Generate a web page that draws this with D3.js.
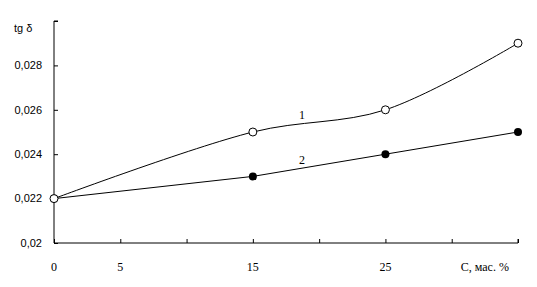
<!DOCTYPE html>
<html>
<head>
<meta charset="utf-8">
<script src="https://cdn.jsdelivr.net/npm/d3@7"></script>
<style>
  body { margin: 0; background: #fff; }
  svg text { fill: #000; }
</style>
</head>
<body>
<div id="chart"></div>
<script>
// x slots are evenly spaced, only some carry a label
const xSlots = [0, 1, 2, 3, 4, 5, 6, 7];
const xTickLabels = ["0", "5", "", "15", "", "25", "", ""];
const yTicks = [0.02, 0.022, 0.024, 0.026, 0.028, 0.03];
const yTickLabels = ["0,02", "0,022", "0,024", "0,026", "0,028", ""];

// series: slot index + tg delta value
const series1Slots = [0, 3, 5, 7];
const series1Values = [0.022, 0.025, 0.026, 0.029];
const series2Slots = [0, 3, 5, 7];
const series2Values = [0.022, 0.023, 0.024, 0.025];

const width = 537, height = 287;
const margin = { top: 21, right: 19, bottom: 44, left: 54 };

const svg = d3.select("#chart")
  .append("svg")
  .attr("width", width)
  .attr("height", height);

const x = d3.scaleLinear()
  .domain([0, 7])
  .range([margin.left, width - margin.right]);

const y = d3.scaleLinear()
  .domain([0.02, 0.03])
  .range([height - margin.bottom, margin.top]);

// y axis, ticks pointing inside
const yAxis = d3.axisRight(y)
  .tickValues(yTicks)
  .tickSize(4)
  .tickFormat("");
svg.append("g")
  .attr("transform", `translate(${margin.left},0)`)
  .call(yAxis)
  .call(g => g.select(".domain").attr("d", `M4,${y(0.03)}H0V${y(0.02)}`))
  .selectAll("line, path").attr("stroke", "#000");

svg.selectAll(".ylab")
  .data(yTicks)
  .join("text")
  .attr("class", "ylab")
  .attr("x", 42)
  .attr("y", d => y(d))
  .attr("dy", "0.35em")
  .attr("text-anchor", "end")
  .attr("font-family", "Liberation Sans, Arial, sans-serif")
  .attr("font-size", "11px")
  .text((d, i) => yTickLabels[i]);

svg.append("text")
  .attr("x", 14)
  .attr("y", 32)
  .attr("font-family", "Liberation Sans, Arial, sans-serif")
  .attr("font-size", "11px")
  .text("tg δ");

// x axis, ticks pointing up
const xAxis = d3.axisTop(x)
  .tickValues(xSlots)
  .tickSize(4)
  .tickFormat("");
svg.append("g")
  .attr("transform", `translate(0,${height - margin.bottom})`)
  .call(xAxis)
  .call(g => g.select(".domain").attr("d", `M${x(0)},0H${x(7)}V-4`))
  .selectAll("line, path").attr("stroke", "#000");

svg.selectAll(".xlab")
  .data(xSlots)
  .join("text")
  .attr("class", "xlab")
  .attr("x", d => x(d))
  .attr("y", 271)
  .attr("text-anchor", "middle")
  .attr("font-family", "Liberation Serif, Times New Roman, serif")
  .attr("font-size", "12px")
  .text((d, i) => xTickLabels[i]);

svg.append("text")
  .attr("x", x(6.5))
  .attr("y", 271)
  .attr("text-anchor", "middle")
  .attr("font-family", "Liberation Serif, Times New Roman, serif")
  .attr("font-size", "12px")
  .text("C, мас. %");

// lines
const pts1 = series1Slots.map((s, i) => [s, series1Values[i]]);
const pts2 = series2Slots.map((s, i) => [s, series2Values[i]]);

const smooth = d3.line()
  .x(d => x(d[0]))
  .y(d => y(d[1]))
  .curve(d3.curveCatmullRom.alpha(0.5));
const straight = d3.line()
  .x(d => x(d[0]))
  .y(d => y(d[1]));

svg.append("path")
  .datum(pts2)
  .attr("d", straight)
  .attr("fill", "none")
  .attr("stroke", "#000")
  .attr("stroke-width", 1);

svg.append("path")
  .datum(pts1)
  .attr("d", smooth)
  .attr("fill", "none")
  .attr("stroke", "#000")
  .attr("stroke-width", 1);

svg.selectAll(".m2")
  .data(pts2)
  .join("circle")
  .attr("class", "m2")
  .attr("cx", d => x(d[0]))
  .attr("cy", d => y(d[1]))
  .attr("r", 4)
  .attr("fill", "#000");

svg.selectAll(".m1")
  .data(pts1)
  .join("circle")
  .attr("class", "m1")
  .attr("cx", d => x(d[0]))
  .attr("cy", d => y(d[1]))
  .attr("r", 4)
  .attr("fill", "#fff")
  .attr("stroke", "#000");

// curve numbers
svg.append("text")
  .attr("x", 302).attr("y", 119)
  .attr("text-anchor", "middle")
  .attr("font-family", "Liberation Serif, Times New Roman, serif")
  .attr("font-size", "12px")
  .text("1");
svg.append("text")
  .attr("x", 302).attr("y", 164)
  .attr("text-anchor", "middle")
  .attr("font-family", "Liberation Serif, Times New Roman, serif")
  .attr("font-size", "12px")
  .text("2");
</script>
</body>
</html>
